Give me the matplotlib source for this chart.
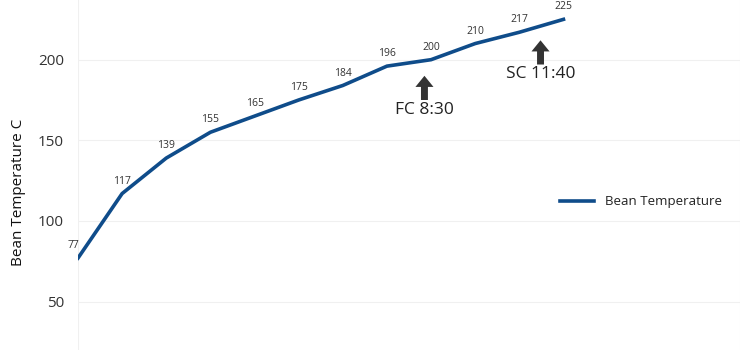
import matplotlib
matplotlib.use('Agg')
import matplotlib.pyplot as plt

# roast data
minutes = [0, 1, 2, 3, 4, 5, 6, 7, 8, 9, 10, 11]
bean_temp = [77, 117, 139, 155, 165, 175, 184, 196, 200, 210, 217, 225]
events = ['FC 8:30', 'SC 11:40']
event_x = [7.85, 10.48]
event_tip = [190, 212]
event_text_y = [169, 191]

plt.rcParams['font.family'] = ['Open Sans', 'DejaVu Sans']

fig = plt.figure(figsize=(7.5, 3.5), dpi=100)
ax = fig.add_axes([78 / 750, 0, 662 / 750, 1])

ax.plot(minutes, bean_temp, color='#0f4c8a', lw=2.6, label='Bean Temperature',
        solid_joinstyle='round', zorder=3)
for x, y in zip(minutes, bean_temp):
    dx = -3 if x == 0 else 0
    ax.annotate(str(y), (x, y), xytext=(dx, 5), textcoords='offset points',
                ha='center', va='bottom', fontsize=7.5, color='#333333')

for label, x, tip, ty in zip(events, event_x, event_tip, event_text_y):
    ax.annotate('', xy=(x, tip), xytext=(x, tip - 15),
                arrowprops=dict(facecolor='#333333', edgecolor='none',
                                width=5, headwidth=13, headlength=8))
    ax.text(x, ty, label, ha='center', va='center', fontsize=12.5, color='#222222')

ax.set_xlim(0, 15)
ax.set_ylim(20, 237)
ax.set_yticks([50, 100, 150, 200])
ax.set_xticks([0, 15])
ax.tick_params(axis='x', labelbottom=False, length=0)
ax.tick_params(axis='y', length=0, labelsize=11, labelcolor='#333333', pad=10)
ax.grid(True, color='#f0f0f0', lw=0.8)
for s in ax.spines.values():
    s.set_visible(False)
ax.set_ylabel('Bean Temperature C', fontsize=11, color='#111111')
ax.yaxis.set_label_coords(-0.078, 0.45)

ax.legend(loc='center right', bbox_to_anchor=(0.99, 0.423), frameon=False,
          fontsize=9.5, handlelength=2.6, labelcolor='#222222')

fig.savefig('out.png', dpi=100, facecolor='white')
